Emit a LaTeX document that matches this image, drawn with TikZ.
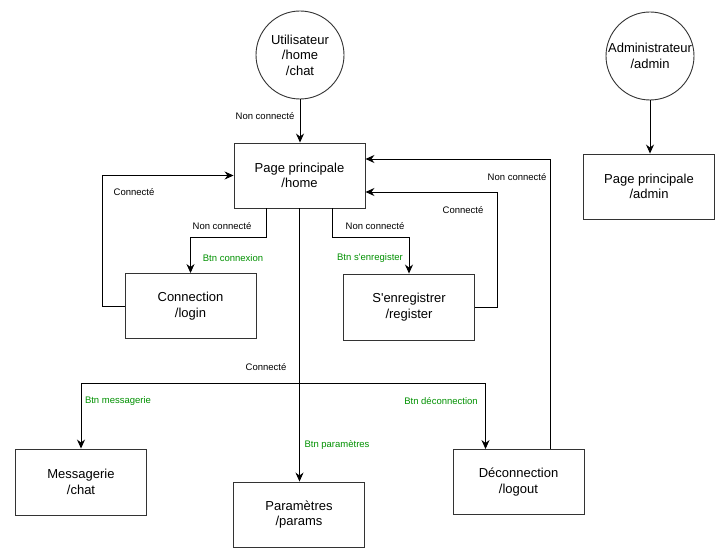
\documentclass[tikz,border=0pt]{standalone}
\usepackage{fontspec}
\setmainfont{Liberation Sans}
\usepackage{xcolor}
\usetikzlibrary{arrows.meta}
\definecolor{frameColor}{RGB}{51, 51, 51}
\definecolor{buttonColor}{RGB}{0, 145, 0}

\begin{document}
\begin{tikzpicture}[x=1pt, y=-1pt, line width=0.9pt,
    >={Stealth[length=9pt, width=8pt, inset=3pt]},
    page/.style={draw=frameColor, fill=white, align=center, inner sep=0pt,
      minimum width=131pt, minimum height=65pt, font=\fontsize{13}{15.5}\selectfont},
    actor/.style={circle, draw=frameColor, fill=white, align=center, inner sep=0pt,
      minimum size=88pt, font=\fontsize{13}{15.5}\selectfont},
    cond/.style={text=black, inner sep=1pt, font=\fontsize{9.5}{11}\selectfont},
    btn/.style={text=buttonColor, inner sep=1pt, font=\fontsize{9.5}{11}\selectfont}]
  \useasboundingbox[fill=white] (0,0) rectangle (727,556);

  % Actors
  \node[actor] (user) at (300,55) {Utilisateur\\/home\\/chat};
  \node[actor] (admin) at (650,56) {Administrateur\\/admin};

  % Pages
  \node[page] (home) at (299.5,175.5) {Page principale\\/home};
  \node[page] (adminhome) at (649,186.5) {Page principale\\/admin};
  \node[page] (login) at (190.5,306) {Connection\\/login};
  \node[page, minimum height=66pt] (register) at (409,307) {S\textquotesingle enregistrer\\/register};
  \node[page, minimum height=66pt] (chat) at (81,482) {Messagerie\\/chat};
  \node[page] (params) at (299,514.5) {Paramètres\\/params};
  \node[page] (logout) at (518.5,482) {Déconnection\\/logout};

  % Entry arrows
  \draw[->] (user.south) -- (user.south |- home.north);
  \draw[->] (admin.south) -- (admin.south |- adminhome.north);
  \node[cond] (lblEnter) at (265,116) {Non connecté};

  % Login and register branches
  \draw[->] ([xshift=-33.5pt]home.south) -- ++(0,29) -| (login.north);
  \node[cond] (lblLoginOut) at (222,226) {Non connecté};
  \node[btn] (lblLoginBtn) at (233,258) {Btn connexion};
  \draw[->] ([xshift=32.5pt]home.south) -- ++(0,29) -| (register.north);
  \node[cond] (lblRegOut) at (375,226) {Non connecté};
  \node[btn] (lblRegBtn) at (370,258) {Btn s\textquotesingle enregister};

  % Returns to the main page
  \draw[->] (login.west) -- ++(-22,0) |- (home.west);
  \node[cond] (lblLoginIn) at (134,192) {Connecté};
  \draw[->] (register.east) -- ++(22,0) |- ([yshift=-16.5pt]home.east);
  \node[cond] (lblRegIn) at (463,210) {Connecté};
  \draw[->] ([xshift=32pt]logout.north) |- ([yshift=16.5pt]home.east);
  \node[cond] (lblLogoutOut) at (517,177) {Non connecté};

  % Connected menu
  \coordinate (branch) at (299.5,383);
  \draw[->] (home.south) -- (home.south |- params.north);
  \draw[->] (branch) -| (chat.north);
  \draw[->] (branch) -| ([xshift=-33pt]logout.north);
  \node[cond] (lblMenu) at (266,367) {Connecté};
  \node[btn] (lblChatBtn) at (118,401) {Btn messagerie};
  \node[btn] (lblParamsBtn) at (337,445) {Btn paramètres};
  \node[btn] (lblLogoutBtn) at (441,401) {Btn déconnection};
\end{tikzpicture}
\end{document}
